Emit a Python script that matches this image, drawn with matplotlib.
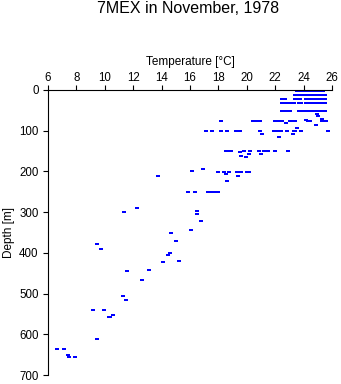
import matplotlib
matplotlib.use("Agg")
import matplotlib.pyplot as plt

plt.rcParams['font.family'] = ['Liberation Sans', 'DejaVu Sans']

# ---- data: temperature [degC] and depth [m] of each sample ----
temperature = [
    # ~0 m
    23.5, 23.65, 23.8, 23.95, 24.1, 24.25, 24.4, 24.55, 24.7, 24.85, 25.0, 25.15, 25.3, 25.4,
    # ~10 m
    23.4, 23.55, 23.7, 23.85, 24.0, 24.15, 24.3, 24.45, 24.6, 24.75, 24.9, 25.05, 25.2, 25.35, 25.5,
    # ~20 m
    22.5, 22.7, 23.4, 23.55, 23.75, 24.15, 24.3, 24.45, 24.6, 24.75, 24.9, 25.05, 25.2, 25.35, 25.5,
    # ~30 m
    22.5, 22.65, 22.8, 22.95, 23.05, 23.3, 23.65, 23.8, 24.15, 24.3, 24.45, 24.6, 24.75, 24.9,
    25.05, 25.2, 25.35, 25.5,
    # ~50 m
    22.45, 22.6, 22.75, 22.9, 23.05, 23.65, 23.8, 23.95, 24.1, 24.25, 24.4, 24.55, 24.7, 24.85,
    25.0, 25.15, 25.3, 25.5,
    # 55-90 m
    24.95, 25.0, 25.3, 25.3,
    18.2, 20.45, 20.6, 20.75, 20.9, 22.0, 22.15, 22.3, 22.45, 22.75, 23.05, 23.2, 23.4,
    24.15, 24.3, 24.45, 25.6, 24.9,
    # ~100 m
    17.13, 17.53, 18.15, 18.6, 19.25, 19.5, 20.95, 21.05, 21.9, 22.05, 22.2, 22.4, 22.3,
    22.85, 23.5, 23.3, 23.4, 23.25, 23.8, 25.7,
    # ~150 m
    18.5, 18.7, 18.9, 19.55, 19.61, 19.8, 19.92, 20.13, 20.25, 20.88, 21.02, 21.19, 21.35,
    21.51, 22.0, 22.9,
    # ~200 m
    13.77, 16.16, 16.94, 17.99, 18.42, 18.54, 18.77, 18.63, 19.33, 19.4, 19.61, 19.99, 20.18,
    # ~250 m
    15.88, 16.37, 17.25, 17.45, 17.6, 17.8, 17.95,
    # 280-350 m
    16.47, 16.52, 16.8, 16.07, 11.35, 12.29, 14.69,
    # deeper
    15.04, 9.47, 9.75, 14.62, 14.48, 14.08, 15.2, 13.13, 11.54, 12.64, 11.3, 11.51,
    9.15, 9.92, 10.27, 10.4, 10.56, 9.43, 6.66, 7.15, 7.41, 7.46, 7.93,
]

depth = [
    # ~0 m
    3, 3, 3, 3, 3, 3, 3, 3, 3, 3, 3, 3, 3, 3,
    # ~10 m
    13, 13, 13, 13, 13, 13, 13, 13, 13, 13, 13, 13, 13, 13, 13,
    # ~20 m
    23, 23, 23, 23, 23, 23, 23, 23, 23, 23, 23, 23, 23, 23, 23,
    # ~30 m
    33, 33, 33, 33, 33, 33, 33, 33, 33, 33, 33, 33, 33, 33,
    33, 33, 33, 33,
    # ~50 m
    51, 51, 51, 51, 51, 51, 51, 51, 51, 51, 51, 51, 51, 51,
    51, 51, 51, 51,
    # 55-90 m
    58, 63, 70, 77,
    76, 76, 76, 76, 76, 76, 76, 76, 76, 80, 76, 76, 76,
    74, 76, 76, 76, 87,
    # ~100 m
    101, 101, 101, 101, 101, 101, 100, 107, 101, 101, 101, 101, 116,
    101, 93, 100, 100, 108, 101, 101,
    # ~150 m
    150, 151, 151, 152, 161, 151, 164, 158, 151, 151, 158, 151, 151,
    151, 151, 151,
    # ~200 m
    211, 198, 195, 201, 202, 207, 202, 223, 202, 210, 202, 202, 202,
    # ~250 m
    251, 251, 251, 251, 251, 251, 251,
    # 280-350 m
    296, 305, 322, 344, 300, 289, 350,
    # deeper
    372, 378, 391, 400, 405, 422, 421, 442, 445, 467, 505, 517,
    541, 541, 558, 558, 553, 612, 637, 637, 652, 655, 655,
]

x_ticks = [6, 8, 10, 12, 14, 16, 18, 20, 22, 24, 26]
y_ticks = [0, 100, 200, 300, 400, 500, 600, 700]

W, H = 341, 384
fig = plt.figure(figsize=(W / 100, H / 100), dpi=100)
ax = fig.add_axes([48 / W, 1 - 375 / H, (332 - 48) / W, (375 - 90) / H])

rect = [(-1.5, -1.2), (1.5, -1.2), (1.5, 1.2), (-1.5, 1.2), (-1.5, -1.2)]
ax.plot(temperature, depth, ls='none', marker=rect, ms=2.4, mew=0,
        mfc='#0000ff', mec='#0000ff', antialiased=False)

ax.set_xlim(6, 26)
ax.set_ylim(700, 0)
ax.set_xticks(x_ticks)
ax.set_yticks(y_ticks)
ax.xaxis.tick_top()
ax.xaxis.set_label_position('top')
for s in ('right', 'bottom'):
    ax.spines[s].set_visible(False)
for s in ('left', 'top'):
    ax.spines[s].set_linewidth(0.8)
ax.tick_params(axis='both', direction='out', length=3.8, width=0.8,
               labelsize=8.3, colors='black')
ax.tick_params(axis='x', pad=0.8)
ax.tick_params(axis='y', pad=3)

ax.set_xlabel('Temperature [°C]', fontsize=8.5, labelpad=5)
ax.set_ylabel('Depth [m]', fontsize=8.5, labelpad=3)

fig.text(188.5 / W, 1 - 12.7 / H, '7MEX in November, 1978', fontsize=11.5,
         ha='center', va='baseline')

fig.savefig('out.png', dpi=100)
